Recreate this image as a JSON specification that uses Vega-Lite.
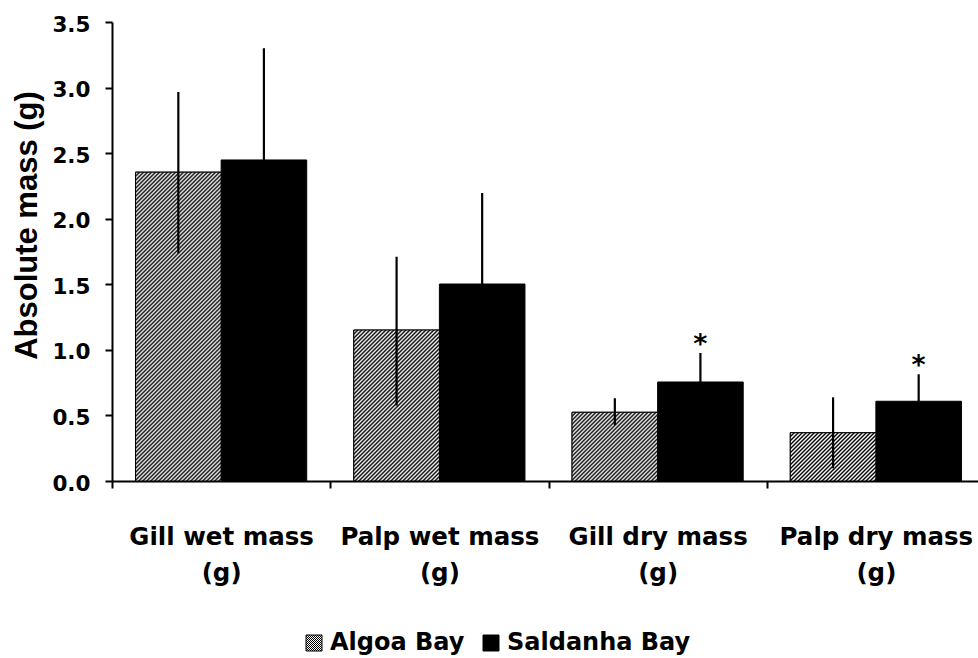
{
  "$schema": "https://vega.github.io/schema/vega-lite/v6.json",
  "width": 866,
  "height": 459,
  "autosize": {"type": "none"},
  "padding": {"left": 112, "top": 22, "right": 0, "bottom": 177},
  "background": "white",
  "params": [
    {"name": "hatch", "value": [
      {"offset":0,"color":"#000"},{"offset":0.005,"color":"#fff"},{"offset":0.01,"color":"#000"},{"offset":0.015,"color":"#fff"},{"offset":0.02,"color":"#000"},{"offset":0.025,"color":"#fff"},{"offset":0.03,"color":"#000"},{"offset":0.035,"color":"#fff"},{"offset":0.04,"color":"#000"},{"offset":0.045,"color":"#fff"},
      {"offset":0.05,"color":"#000"},{"offset":0.055,"color":"#fff"},{"offset":0.06,"color":"#000"},{"offset":0.065,"color":"#fff"},{"offset":0.07,"color":"#000"},{"offset":0.075,"color":"#fff"},{"offset":0.08,"color":"#000"},{"offset":0.085,"color":"#fff"},{"offset":0.09,"color":"#000"},{"offset":0.095,"color":"#fff"},
      {"offset":0.1,"color":"#000"},{"offset":0.105,"color":"#fff"},{"offset":0.11,"color":"#000"},{"offset":0.115,"color":"#fff"},{"offset":0.12,"color":"#000"},{"offset":0.125,"color":"#fff"},{"offset":0.13,"color":"#000"},{"offset":0.135,"color":"#fff"},{"offset":0.14,"color":"#000"},{"offset":0.145,"color":"#fff"},
      {"offset":0.15,"color":"#000"},{"offset":0.155,"color":"#fff"},{"offset":0.16,"color":"#000"},{"offset":0.165,"color":"#fff"},{"offset":0.17,"color":"#000"},{"offset":0.175,"color":"#fff"},{"offset":0.18,"color":"#000"},{"offset":0.185,"color":"#fff"},{"offset":0.19,"color":"#000"},{"offset":0.195,"color":"#fff"},
      {"offset":0.2,"color":"#000"},{"offset":0.205,"color":"#fff"},{"offset":0.21,"color":"#000"},{"offset":0.215,"color":"#fff"},{"offset":0.22,"color":"#000"},{"offset":0.225,"color":"#fff"},{"offset":0.23,"color":"#000"},{"offset":0.235,"color":"#fff"},{"offset":0.24,"color":"#000"},{"offset":0.245,"color":"#fff"},
      {"offset":0.25,"color":"#000"},{"offset":0.255,"color":"#fff"},{"offset":0.26,"color":"#000"},{"offset":0.265,"color":"#fff"},{"offset":0.27,"color":"#000"},{"offset":0.275,"color":"#fff"},{"offset":0.28,"color":"#000"},{"offset":0.285,"color":"#fff"},{"offset":0.29,"color":"#000"},{"offset":0.295,"color":"#fff"},
      {"offset":0.3,"color":"#000"},{"offset":0.305,"color":"#fff"},{"offset":0.31,"color":"#000"},{"offset":0.315,"color":"#fff"},{"offset":0.32,"color":"#000"},{"offset":0.325,"color":"#fff"},{"offset":0.33,"color":"#000"},{"offset":0.335,"color":"#fff"},{"offset":0.34,"color":"#000"},{"offset":0.345,"color":"#fff"},
      {"offset":0.35,"color":"#000"},{"offset":0.355,"color":"#fff"},{"offset":0.36,"color":"#000"},{"offset":0.365,"color":"#fff"},{"offset":0.37,"color":"#000"},{"offset":0.375,"color":"#fff"},{"offset":0.38,"color":"#000"},{"offset":0.385,"color":"#fff"},{"offset":0.39,"color":"#000"},{"offset":0.395,"color":"#fff"},
      {"offset":0.4,"color":"#000"},{"offset":0.405,"color":"#fff"},{"offset":0.41,"color":"#000"},{"offset":0.415,"color":"#fff"},{"offset":0.42,"color":"#000"},{"offset":0.425,"color":"#fff"},{"offset":0.43,"color":"#000"},{"offset":0.435,"color":"#fff"},{"offset":0.44,"color":"#000"},{"offset":0.445,"color":"#fff"},
      {"offset":0.45,"color":"#000"},{"offset":0.455,"color":"#fff"},{"offset":0.46,"color":"#000"},{"offset":0.465,"color":"#fff"},{"offset":0.47,"color":"#000"},{"offset":0.475,"color":"#fff"},{"offset":0.48,"color":"#000"},{"offset":0.485,"color":"#fff"},{"offset":0.49,"color":"#000"},{"offset":0.495,"color":"#fff"},
      {"offset":0.5,"color":"#000"},{"offset":0.505,"color":"#fff"},{"offset":0.51,"color":"#000"},{"offset":0.515,"color":"#fff"},{"offset":0.52,"color":"#000"},{"offset":0.525,"color":"#fff"},{"offset":0.53,"color":"#000"},{"offset":0.535,"color":"#fff"},{"offset":0.54,"color":"#000"},{"offset":0.545,"color":"#fff"},
      {"offset":0.55,"color":"#000"},{"offset":0.555,"color":"#fff"},{"offset":0.56,"color":"#000"},{"offset":0.565,"color":"#fff"},{"offset":0.57,"color":"#000"},{"offset":0.575,"color":"#fff"},{"offset":0.58,"color":"#000"},{"offset":0.585,"color":"#fff"},{"offset":0.59,"color":"#000"},{"offset":0.595,"color":"#fff"},
      {"offset":0.6,"color":"#000"},{"offset":0.605,"color":"#fff"},{"offset":0.61,"color":"#000"},{"offset":0.615,"color":"#fff"},{"offset":0.62,"color":"#000"},{"offset":0.625,"color":"#fff"},{"offset":0.63,"color":"#000"},{"offset":0.635,"color":"#fff"},{"offset":0.64,"color":"#000"},{"offset":0.645,"color":"#fff"},
      {"offset":0.65,"color":"#000"},{"offset":0.655,"color":"#fff"},{"offset":0.66,"color":"#000"},{"offset":0.665,"color":"#fff"},{"offset":0.67,"color":"#000"},{"offset":0.675,"color":"#fff"},{"offset":0.68,"color":"#000"},{"offset":0.685,"color":"#fff"},{"offset":0.69,"color":"#000"},{"offset":0.695,"color":"#fff"},
      {"offset":0.7,"color":"#000"},{"offset":0.705,"color":"#fff"},{"offset":0.71,"color":"#000"},{"offset":0.715,"color":"#fff"},{"offset":0.72,"color":"#000"},{"offset":0.725,"color":"#fff"},{"offset":0.73,"color":"#000"},{"offset":0.735,"color":"#fff"},{"offset":0.74,"color":"#000"},{"offset":0.745,"color":"#fff"},
      {"offset":0.75,"color":"#000"},{"offset":0.755,"color":"#fff"},{"offset":0.76,"color":"#000"},{"offset":0.765,"color":"#fff"},{"offset":0.77,"color":"#000"},{"offset":0.775,"color":"#fff"},{"offset":0.78,"color":"#000"},{"offset":0.785,"color":"#fff"},{"offset":0.79,"color":"#000"},{"offset":0.795,"color":"#fff"},
      {"offset":0.8,"color":"#000"},{"offset":0.805,"color":"#fff"},{"offset":0.81,"color":"#000"},{"offset":0.815,"color":"#fff"},{"offset":0.82,"color":"#000"},{"offset":0.825,"color":"#fff"},{"offset":0.83,"color":"#000"},{"offset":0.835,"color":"#fff"},{"offset":0.84,"color":"#000"},{"offset":0.845,"color":"#fff"},
      {"offset":0.85,"color":"#000"},{"offset":0.855,"color":"#fff"},{"offset":0.86,"color":"#000"},{"offset":0.865,"color":"#fff"},{"offset":0.87,"color":"#000"},{"offset":0.875,"color":"#fff"},{"offset":0.88,"color":"#000"},{"offset":0.885,"color":"#fff"},{"offset":0.89,"color":"#000"},{"offset":0.895,"color":"#fff"},
      {"offset":0.9,"color":"#000"},{"offset":0.905,"color":"#fff"},{"offset":0.91,"color":"#000"},{"offset":0.915,"color":"#fff"},{"offset":0.92,"color":"#000"},{"offset":0.925,"color":"#fff"},{"offset":0.93,"color":"#000"},{"offset":0.935,"color":"#fff"},{"offset":0.94,"color":"#000"},{"offset":0.945,"color":"#fff"},
      {"offset":0.95,"color":"#000"},{"offset":0.955,"color":"#fff"},{"offset":0.96,"color":"#000"},{"offset":0.965,"color":"#fff"},{"offset":0.97,"color":"#000"},{"offset":0.975,"color":"#fff"},{"offset":0.98,"color":"#000"},{"offset":0.985,"color":"#fff"},{"offset":0.99,"color":"#000"},{"offset":0.995,"color":"#fff"},
      {"offset":1,"color":"#000"}
    ]}
  ],
  "data": {"values": [
    {"group": "Gill wet mass (g)", "site": "Algoa Bay", "mean": 2.355, "low": 1.736, "high": 2.966, "sig": ""},
    {"group": "Gill wet mass (g)", "site": "Saldanha Bay", "mean": 2.448, "low": 1.6, "high": 3.3, "sig": ""},
    {"group": "Palp wet mass (g)", "site": "Algoa Bay", "mean": 1.151, "low": 0.575, "high": 1.71, "sig": ""},
    {"group": "Palp wet mass (g)", "site": "Saldanha Bay", "mean": 1.502, "low": 0.81, "high": 2.196, "sig": ""},
    {"group": "Gill dry mass (g)", "site": "Algoa Bay", "mean": 0.524, "low": 0.427, "high": 0.631, "sig": ""},
    {"group": "Gill dry mass (g)", "site": "Saldanha Bay", "mean": 0.755, "low": 0.534, "high": 0.976, "sig": "*"},
    {"group": "Palp dry mass (g)", "site": "Algoa Bay", "mean": 0.368, "low": 0.097, "high": 0.638, "sig": ""},
    {"group": "Palp dry mass (g)", "site": "Saldanha Bay", "mean": 0.608, "low": 0.402, "high": 0.814, "sig": "*"}
  ]},
  "encoding": {
    "x": {
      "field": "group", "type": "nominal", "sort": null,
      "scale": {"range": [0, 873], "paddingInner": 0, "paddingOuter": 0},
      "axis": {"labelExpr": "datum.label ? [replace(datum.label, ' (g)', ''), '(g)'] : ''"}
    },
    "xOffset": {
      "field": "site", "type": "nominal",
      "scale": {"paddingInner": 0, "paddingOuter": 0.275}
    }
  },
  "layer": [
    {
      "mark": {"type": "bar", "stroke": "black", "strokeWidth": 1},
      "encoding": {
        "y": {
          "field": "mean", "type": "quantitative", "title": "Absolute mass (g)",
          "scale": {"domain": [0, 3.5], "nice": false},
          "axis": {"values": [0, 0.5, 1, 1.5, 2, 2.5, 3, 3.5], "format": ".1f"}
        },
        "fill": {
          "field": "site", "type": "nominal",
          "scale": {
            "domain": ["Algoa Bay", "Saldanha Bay"],
            "range": [{"expr": "{gradient: 'linear', x1: 0, y1: 0, x2: 6.25, y2: 6.25, stops: hatch}"}, "#000000"]
          },
          "legend": {
            "orient": "none", "legendX": 190, "legendY": 609, "direction": "horizontal",
            "title": null, "symbolType": "square", "symbolSize": 256,
            "labelFont": "DejaVu Sans", "labelFontWeight": "bold", "labelFontSize": 24,
            "labelColor": "black", "labelOffset": 4, "columnPadding": 14, "padding": 0,
            "labelLimit": 0, "symbolStrokeColor": "black", "symbolStrokeWidth": 1
          }
        }
      }
    },
    {
      "transform": [{"filter": "datum.site === 'Algoa Bay'"}],
      "mark": {
        "type": "bar", "stroke": "black", "strokeWidth": 1,
        "fill": {"expr": "{gradient: 'linear', x1: 0, y1: 0, x2: 34240 / (7327 + pow(131.14 * datum.mean, 2)), y2: 52456 * datum.mean / (7327 + pow(131.14 * datum.mean, 2)), stops: hatch}"}
      },
      "encoding": {
        "y": {"field": "mean", "type": "quantitative", "title": "Absolute mass (g)"}
      }
    },
    {
      "mark": {"type": "rule", "color": "black", "strokeWidth": 2.2},
      "encoding": {
        "y": {"field": "low", "type": "quantitative", "title": "Absolute mass (g)"},
        "y2": {"field": "high"}
      }
    },
    {
      "mark": {"type": "text", "font": "DejaVu Sans", "fontWeight": "bold", "fontSize": 27, "color": "black", "baseline": "alphabetic", "align": "center"},
      "encoding": {
        "y": {"field": "high", "type": "quantitative", "title": "Absolute mass (g)"},
        "text": {"field": "sig"}
      }
    }
  ],
  "config": {
    "view": {"stroke": null},
    "font": "DejaVu Sans",
    "axis": {
      "domainColor": "black", "domainWidth": 2, "tickColor": "black", "tickWidth": 2, "tickSize": 7,
      "labelColor": "black", "labelFont": "DejaVu Sans", "labelFontWeight": "bold", "grid": false,
      "titleColor": "black"
    },
    "axisX": {
      "labelFontSize": 24.5, "labelAngle": 0, "labelBaseline": "top", "labelLineHeight": 36,
      "labelPadding": 37, "tickBand": "extent", "title": null, "labelOverlap": false, "labelLimit": 0
    },
    "axisY": {
      "labelFontSize": 21.5, "labelPadding": 15, "labelOffset": 3,
      "titleFont": "Liberation Sans", "titleFontSize": 31, "titleFontWeight": "bold",
      "titleX": -69, "titleY": 203, "titleAngle": -90, "titleBaseline": "bottom", "titleAlign": "center"
    }
  }
}
